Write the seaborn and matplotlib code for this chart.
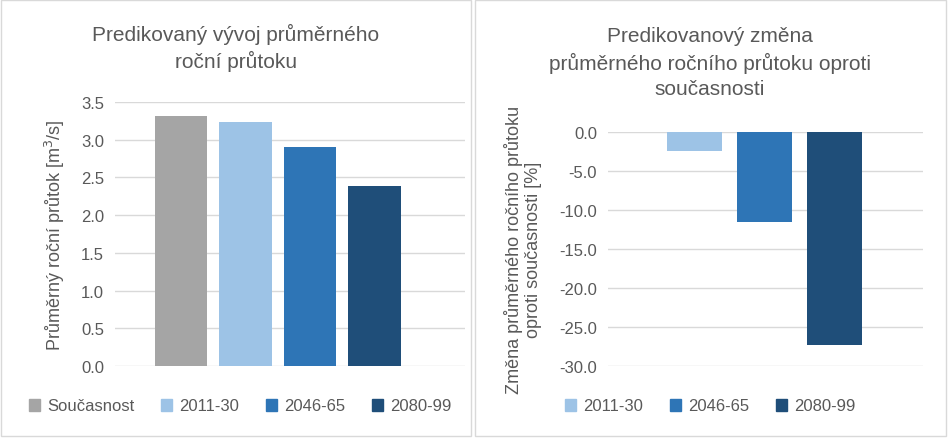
import matplotlib
matplotlib.use("Agg")
import matplotlib.pyplot as plt
import seaborn as sns
import pandas as pd
from matplotlib.patches import Rectangle, Patch

cats = ["Současnost", "2011-30", "2046-65", "2080-99"]
flow = [3.31, 3.23, 2.91, 2.39]
cats_chg = ["2011-30", "2046-65", "2080-99"]
change = [-2.4, -11.6, -27.3]
colors = ["#A5A5A5", "#9DC3E6", "#2E75B6", "#1F4E79"]
pal = dict(zip(cats, colors))

W, H = 948, 439
fig = plt.figure(figsize=(W/100, H/100), dpi=100)
plt.rcParams["font.family"] = "Liberation Sans"
tc = "#595959"

def fx(px): return px / W
def fy(py): return 1 - py / H

for x0, x1 in [(1, 471), (475, 946)]:
    fig.add_artist(Rectangle((fx(x0), fy(437)), fx(x1 - x0), (436) / H, fill=False,
                             edgecolor="#D9D9D9", lw=1, transform=fig.transFigure))

# left
ax1 = fig.add_axes([fx(115), fy(367), fx(350), (367 - 103) / H])
df1 = pd.DataFrame({"cat": cats, "v": flow})
sns.barplot(data=df1, x="cat", y="v", hue="cat", palette=pal, dodge=False,
            width=0.81, ax=ax1, legend=False, saturation=1)
ax1.set_xlim(-1.02, 4.4)
ax1.set_ylim(0, 3.5)
ax1.set_yticks([i * 0.5 for i in range(8)])
ax1.set_yticklabels([f"{i*0.5:.1f}" for i in range(8)])
ax1.set_ylabel("Průměrný roční průtok [m$^3$/s]", fontsize=13, color=tc, labelpad=10)
ax1.set_xlabel("")
ax1.set_xticks([])

# right
ax2 = fig.add_axes([fx(608), fy(367), fx(315), (367 - 133) / H])
df2 = pd.DataFrame({"cat": cats_chg, "v": change})
sns.barplot(data=df2, x="cat", y="v", hue="cat", palette=pal, dodge=False,
            width=0.786, ax=ax2, legend=False, saturation=1)
ax2.set_xlim(-1.24, 3.26)
ax2.set_ylim(-30, 0)
ax2.set_yticks(range(-30, 1, 5))
ax2.set_yticklabels([f"{v:.1f}" for v in range(-30, 1, 5)])
ax2.set_ylabel("Změna průměrného ročního průtoku\noproti současnosti [%]", fontsize=13,
               color=tc, labelpad=12, linespacing=1.2)
ax2.set_xlabel("")
ax2.set_xticks([])

for ax in (ax1, ax2):
    ax.set_axisbelow(True)
    ax.grid(axis="y", color="#D9D9D9", lw=1)
    for s in ax.spines.values():
        s.set_visible(False)
    ax.tick_params(axis="y", length=0, labelsize=12, labelcolor=tc, pad=8)

fig.text(fx(236), fy(48), "Predikovaný vývoj průměrného\nroční průtoku", ha="center", va="center",
         fontsize=15, color=tc, linespacing=1.4)
fig.text(fx(710), fy(63), "Predikovanový změna\nprůměrného ročního průtoku oproti\nsoučasnosti",
         ha="center", va="center", fontsize=15, color=tc, linespacing=1.4)

h1 = [Patch(color=c) for c in colors]
fig.legend(h1, cats, loc="center", bbox_to_anchor=(fx(240), fy(407)), ncol=4, frameon=False,
           fontsize=12, labelcolor=tc, handlelength=0.7, handleheight=0.7, columnspacing=1.6,
           handletextpad=0.4)
fig.legend(h1[1:], cats_chg, loc="center", bbox_to_anchor=(fx(710), fy(407)), ncol=3, frameon=False,
           fontsize=12, labelcolor=tc, handlelength=0.7, handleheight=0.7, columnspacing=1.6,
           handletextpad=0.4)

fig.savefig("out.png", dpi=100)
